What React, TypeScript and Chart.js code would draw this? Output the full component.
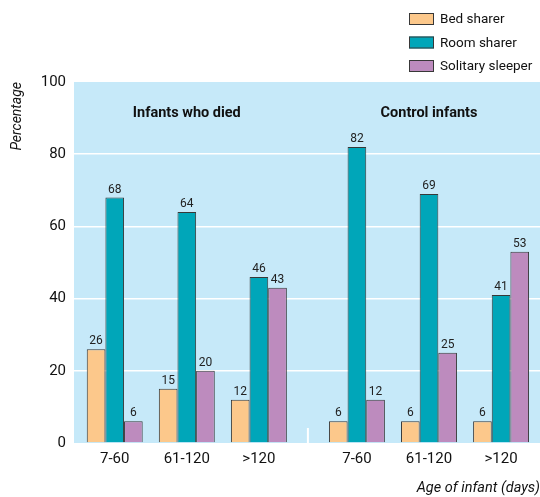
import React, { useEffect, useRef } from "react";
import { Chart, registerables } from "chart.js";

Chart.register(...registerables);

const groupTitles = ["Infants who died", "Control infants"];
const ageLabels = ["7-60", "61-120", ">120", "7-60", "61-120", ">120"];
const seriesNames = ["Bed sharer", "Room sharer", "Solitary sleeper"];
const bedSharer = [26, 15, 12, 6, 6, 6];
const roomSharer = [68, 64, 46, 82, 69, 41];
const solitarySleeper = [6, 20, 43, 12, 25, 53];
const yTicks = [0, 20, 40, 60, 80, 100];

const COLORS = ["#fcc88b", "#00a6b9", "#bd8bbe"];
const BORDER = "#383838";
const PLOT_BG = "#c6e9f9";
const FONT = "'Liberation Sans Narrow', 'Roboto', sans-serif";
const GROUP_GAP = 0.36;
const PER_GROUP = 3;

const slotX = (i: number) => i + Math.floor(i / PER_GROUP) * GROUP_GAP;

export default function App() {
  const ref = useRef<HTMLCanvasElement>(null);
  useEffect(() => {
    document.body.style.margin = "0";
    const xs = ageLabels.map((_, i) => slotX(i));
    const all = [bedSharer, roomSharer, solitarySleeper];
    const decor = {
      id: "decor",
      beforeDraw(chart: any) {
        const { ctx, chartArea: a } = chart;
        ctx.save();
        ctx.fillStyle = PLOT_BG;
        ctx.fillRect(a.left, a.top, a.right - a.left, a.bottom - a.top);
        ctx.restore();
      },
      afterDatasetsDraw(chart: any) {
        const { ctx, chartArea: a, scales } = chart;
        ctx.save();
        // value labels
        ctx.fillStyle = "#222";
        ctx.font = `12px ${FONT}`;
        ctx.textAlign = "center";
        ctx.textBaseline = "bottom";
        chart.data.datasets.forEach((ds: any, di: number) => {
          const meta = chart.getDatasetMeta(di);
          meta.data.forEach((bar: any, i: number) => {
            ctx.fillText(String(all[di][i]), bar.x, bar.y - 2);
          });
        });
        // group titles
        ctx.font = `bold 14.5px ${FONT}`;
        ctx.textBaseline = "middle";
        ctx.fillStyle = "#111";
        groupTitles.forEach((t, g) => {
          const mid = slotX(g * PER_GROUP + 1);
          ctx.fillText(t, scales.x.getPixelForValue(mid), a.top + 31);
        });
        // separator
        const sepVal = (slotX(PER_GROUP - 1) + slotX(PER_GROUP)) / 2;
        const sx = scales.x.getPixelForValue(sepVal);
        ctx.strokeStyle = "#ffffff";
        ctx.lineWidth = 2;
        ctx.beginPath();
        ctx.moveTo(sx, a.bottom);
        ctx.lineTo(sx, a.bottom - 15);
        ctx.stroke();
        // legend
        ctx.font = `13.5px ${FONT}`;
        ctx.textAlign = "left";
        seriesNames.forEach((n, i) => {
          const cy = 19 + i * 23.5;
          ctx.fillStyle = COLORS[i];
          ctx.fillRect(409, cy - 6, 25, 12);
          ctx.strokeStyle = BORDER;
          ctx.lineWidth = 1;
          ctx.strokeRect(409.5, cy - 5.5, 24, 11);
          ctx.fillStyle = "#111";
          ctx.fillText(n, 440, cy + 1);
        });
        ctx.restore();
      },
    };
    const chart = new Chart(ref.current!, {
      type: "bar",
      data: {
        datasets: all.map((vals, di) => ({
          label: seriesNames[di],
          data: vals.map((v, i) => ({ x: xs[i], y: v })),
          backgroundColor: COLORS[di],
          borderColor: BORDER,
          borderWidth: 1,
          categoryPercentage: 0.776,
          barPercentage: 1,
        })),
      },
      options: {
        animation: false,
        responsive: false,
        layout: { padding: { top: 82, right: 0, left: 0, bottom: 0 } },
        plugins: { legend: { display: false }, tooltip: { enabled: false } },
        scales: {
          x: {
            type: "linear",
            offset: false,
            min: -0.565,
            max: xs[xs.length - 1] + 0.54,
            afterBuildTicks: (s: any) => {
              s.ticks = xs.map((v) => ({ value: v }));
            },
            afterFit: (s: any) => {
              s.height = 54;
            },
            grid: { display: false, drawTicks: false, offset: false },
            border: { display: false },
            ticks: {
              autoSkip: false,
              maxRotation: 0,
              padding: 7,
              color: "#111",
              font: { family: FONT, size: 15 },
              callback: (_v: any, idx: number) => ageLabels[idx],
            },
            title: {
              display: true,
              text: "Age of infant (days)",
              align: "end",
              color: "#111",
              padding: { top: 0, bottom: 0 },
              font: { family: FONT, size: 14.5, style: "italic" },
            },
          },
          y: {
            min: 0,
            max: 100,
            afterBuildTicks: (s: any) => {
              s.ticks = yTicks.map((v) => ({ value: v }));
            },
            afterFit: (s: any) => {
              s.width = 74;
            },
            grid: {
              drawTicks: false,
              lineWidth: 1.5,
              color: (c: any) =>
                c.tick && (c.tick.value === 0 || c.tick.value === 100) ? "rgba(0,0,0,0)" : "#ffffff",
            },
            border: { display: false },
            ticks: {
              padding: 8,
              color: "#111",
              font: { family: FONT, size: 15 },
            },
            title: {
              display: true,
              text: "Percentage",
              align: "end",
              color: "#111",
              padding: { top: 9, bottom: 0 },
              font: { family: FONT, size: 14, style: "italic" },
            },
          },
        },
      },
      plugins: [decor],
    } as any);
    return () => chart.destroy();
  }, []);
  return (
    <div style={{ width: 540, height: 497 }}>
      <canvas ref={ref} width={540} height={497} />
    </div>
  );
}
